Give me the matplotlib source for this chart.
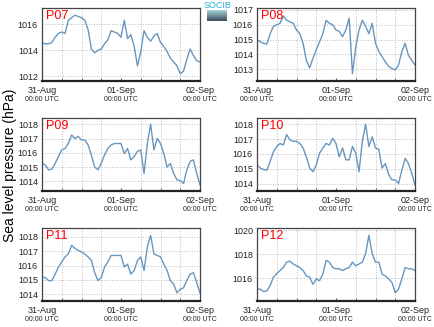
import matplotlib
matplotlib.use("Agg")
import matplotlib.pyplot as plt
import numpy as np

plt.rcParams["font.family"] = ["Liberation Sans", "DejaVu Sans"]

# hourly sea level pressure (hPa), 31-Aug 00:00 UTC to 02-Sep 00:00 UTC
hours = np.arange(49)

p07 = [1014.6, 1014.5, 1014.5, 1014.6, 1015.0, 1015.3, 1015.4, 1015.3, 1016.3, 1016.5,
       1016.7, 1016.6, 1016.5, 1016.3, 1015.6, 1014.1, 1013.8, 1014.0, 1014.1, 1014.5,
       1014.8, 1015.5, 1015.4, 1015.3, 1015.0, 1016.3, 1014.9, 1015.2, 1014.3, 1012.8,
       1013.9, 1015.5, 1015.0, 1014.7, 1015.1, 1015.3, 1014.6, 1014.3, 1013.9, 1013.4,
       1013.1, 1012.8, 1012.2, 1012.4, 1013.3, 1014.1, 1013.6, 1013.2, 1013.1]
p08 = [1015.0, 1014.85, 1014.75, 1014.7, 1015.4, 1015.9, 1016.0, 1016.1, 1016.6, 1016.3,
       1016.2, 1016.1, 1015.65, 1015.4, 1014.75, 1013.6, 1013.1, 1013.75, 1014.3, 1014.85,
       1015.4, 1016.3, 1016.1, 1016.0, 1015.65, 1015.55, 1015.2, 1015.65, 1016.45, 1012.7,
       1014.5, 1015.65, 1016.3, 1015.9, 1015.4, 1016.1, 1014.75, 1014.2, 1013.85, 1013.5,
       1013.2, 1013.05, 1012.95, 1013.3, 1014.2, 1014.75, 1013.95, 1013.6, 1013.3]
p09 = [1015.25, 1015.15, 1014.8, 1014.85, 1015.25, 1015.75, 1016.2, 1016.3, 1016.65, 1017.25,
       1017.0, 1017.15, 1016.9, 1016.9, 1016.55, 1015.85, 1015.0, 1014.8, 1015.25, 1015.85,
       1016.3, 1016.55, 1016.65, 1016.65, 1016.65, 1015.95, 1016.3, 1015.5, 1015.75, 1016.1,
       1016.2, 1014.55, 1016.65, 1018.0, 1016.2, 1017.0, 1016.65, 1015.95, 1015.0, 1015.25,
       1014.55, 1014.1, 1014.05, 1013.85, 1014.8, 1015.4, 1015.5, 1014.55, 1013.75]
p10 = [1015.25, 1015.05, 1014.95, 1014.9, 1015.5, 1016.15, 1016.5, 1016.7, 1016.6, 1017.3,
       1016.95, 1016.85, 1016.85, 1016.7, 1016.4, 1015.8, 1015.05, 1014.8, 1015.25, 1016.05,
       1016.4, 1016.7, 1016.6, 1017.05, 1016.7, 1015.8, 1016.4, 1015.6, 1015.6, 1016.5,
       1016.05, 1014.8, 1016.85, 1018.0, 1016.5, 1017.15, 1016.4, 1016.3, 1015.05, 1015.35,
       1014.6, 1014.25, 1014.25, 1014.0, 1014.9, 1015.7, 1015.35, 1014.7, 1013.9]
p11 = [1015.2, 1015.15, 1014.95, 1014.95, 1015.4, 1015.9, 1016.25, 1016.6, 1016.8, 1017.4,
       1017.2, 1017.05, 1016.95, 1016.8, 1016.6, 1016.35, 1015.5, 1014.95, 1015.15, 1015.9,
       1016.25, 1016.7, 1016.7, 1016.7, 1016.7, 1015.9, 1016.1, 1015.4, 1015.65, 1016.35,
       1016.6, 1015.65, 1017.3, 1018.1, 1016.8, 1016.7, 1016.6, 1016.1, 1015.65, 1014.95,
       1014.7, 1014.1, 1014.35, 1014.45, 1014.95, 1015.4, 1015.5, 1014.8, 1014.1]
p12 = [1015.1, 1015.1, 1014.9, 1014.95, 1015.4, 1016.1, 1016.4, 1016.65, 1016.9, 1017.35,
       1017.45, 1017.2, 1017.05, 1016.9, 1016.65, 1016.2, 1016.1, 1015.5, 1015.95, 1015.8,
       1016.35, 1017.5, 1017.35, 1016.9, 1016.8, 1016.8, 1016.65, 1016.8, 1016.9, 1017.35,
       1017.05, 1017.2, 1017.35, 1018.05, 1019.6, 1018.05, 1017.35, 1017.35, 1016.35, 1016.2,
       1015.95, 1015.65, 1014.8, 1015.1, 1015.95, 1016.9, 1016.8, 1016.8, 1016.65]

names = ["P07", "P08", "P09", "P10", "P11", "P12"]
series = [p07, p08, p09, p10, p11, p12]
yticks = [[1012, 1014, 1016], [1013, 1014, 1015, 1016, 1017], [1014, 1015, 1016, 1017, 1018],
          [1014, 1015, 1016, 1017, 1018], [1014, 1015, 1016, 1017, 1018], [1016, 1018, 1020]]
ylims = [(1011.64, 1017.25), (1012.21, 1017.13), (1013.32, 1018.44),
         (1013.5, 1018.42), (1013.53, 1018.61), (1014.11, 1020.2)]
date_labels = ["31-Aug", "01-Sep", "02-Sep"]

fig = plt.figure(figsize=(4.34, 3.27), dpi=100)

W, H = 434.0, 327.0
lefts = [42, 257]
tops = [8, 118, 228]
aw, ah = 158, 73

for i, (name, vals) in enumerate(zip(names, series)):
    r, c = divmod(i, 2)
    ax = fig.add_axes([lefts[c] / W, 1 - (tops[r] + ah) / H, aw / W, ah / H])
    ax.plot(hours, vals, color="#6896c0", lw=1.0)
    ax.set_xlim(0, 48)
    ax.set_ylim(*ylims[i])
    ax.set_yticks(yticks[i])
    ax.set_xticks([0, 24, 48])
    ax.set_xticks(np.arange(0, 49, 6), minor=True)
    ax.set_xticklabels([])
    ax.tick_params(axis="y", labelsize=6.5, length=0, pad=3, labelcolor="#222222")
    ax.tick_params(axis="x", which="both", direction="in", length=2, color="#555555")
    ax.grid(True, which="minor", axis="x", ls=":", lw=0.7, color="#bbbbbb")
    ax.grid(True, which="major", axis="y", ls=":", lw=0.7, color="#bbbbbb")
    for s in ["top", "right", "left"]:
        ax.spines[s].set_color("#444444")
        ax.spines[s].set_linewidth(0.9)
    ax.spines["bottom"].set_color("#222222")
    ax.spines["bottom"].set_linewidth(1.6)
    for xv, lab in zip([0, 24, 48], date_labels):
        ax.annotate(lab, (xv, 0), xycoords=("data", "axes fraction"),
                    xytext=(0, -6.5), textcoords="offset points",
                    ha="center", va="center", fontsize=6.5, color="#222222")
        ax.annotate("00:00 UTC", (xv, 0), xycoords=("data", "axes fraction"),
                    xytext=(0, -13), textcoords="offset points",
                    ha="center", va="center", fontsize=5, color="#222222")
    ax.text(0.025, 0.97, name, transform=ax.transAxes, color="red",
            fontsize=9, ha="left", va="top")

fig.text(10 / W, 1 - 165 / H, "Sea level pressure (hPa)", rotation=90,
         ha="center", va="center", fontsize=10)

# small logo between the top panels
lax = fig.add_axes([207 / W, 1 - 21 / H, 20 / W, 11 / H])
grad = np.linspace(0, 1, 20).reshape(-1, 1)
lax.imshow(grad, aspect="auto", cmap=matplotlib.colors.LinearSegmentedColormap.from_list(
    "logo", ["#a6cfd6", "#3a4f5c"]))
lax.axis("off")
fig.text(217 / W, 1 - 5.5 / H, "SOCIB", color="#29b6d2", fontsize=6.5,
         ha="center", va="center")

fig.savefig("out.png", dpi=100)
